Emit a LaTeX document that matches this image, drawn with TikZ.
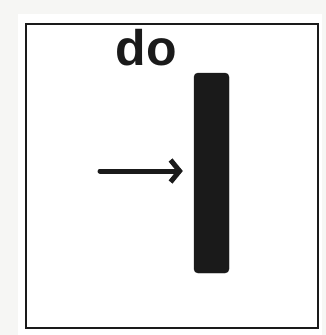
\documentclass[tikz,border=0pt]{standalone}
\usepackage{fontspec}
\setmainfont{Liberation Sans}
\usetikzlibrary{arrows.meta}
\definecolor{ink}{HTML}{1A1A1A}
\definecolor{paper}{HTML}{F6F6F4}
\tikzset{
  cardframe/.style={draw=ink, line width=2pt, fill=white},
  barbox/.style={fill=ink, draw=ink, rounded corners=4pt, minimum width=35pt, minimum height=200pt, inner sep=0pt},
  labeltext/.style={text=ink, font=\fontsize{50}{50}\selectfont\bfseries, inner sep=0pt},
  pointer/.style={draw=ink, line width=5pt, line cap=round, -{Straight Barb[length=9pt,width=22pt,line width=5pt]}}
}
\begin{document}
\begin{tikzpicture}[x=1pt,y=-1pt]
  \useasboundingbox (0,0) rectangle (326,335);
  \fill[paper] (0,0) rectangle (326,335);
  \fill[white] (18,14) rectangle (322,335);
  \draw[cardframe] (26,24) rectangle (318,328);
  \node[labeltext] (lbl) at (146,48) {do};
  \node[barbox] (bar) at (211.5,173) {};
  \coordinate (tail) at (100,171);
  \draw[pointer] (tail) -- ([xshift=-11pt]tail -| bar.west);
\end{tikzpicture}
\end{document}
